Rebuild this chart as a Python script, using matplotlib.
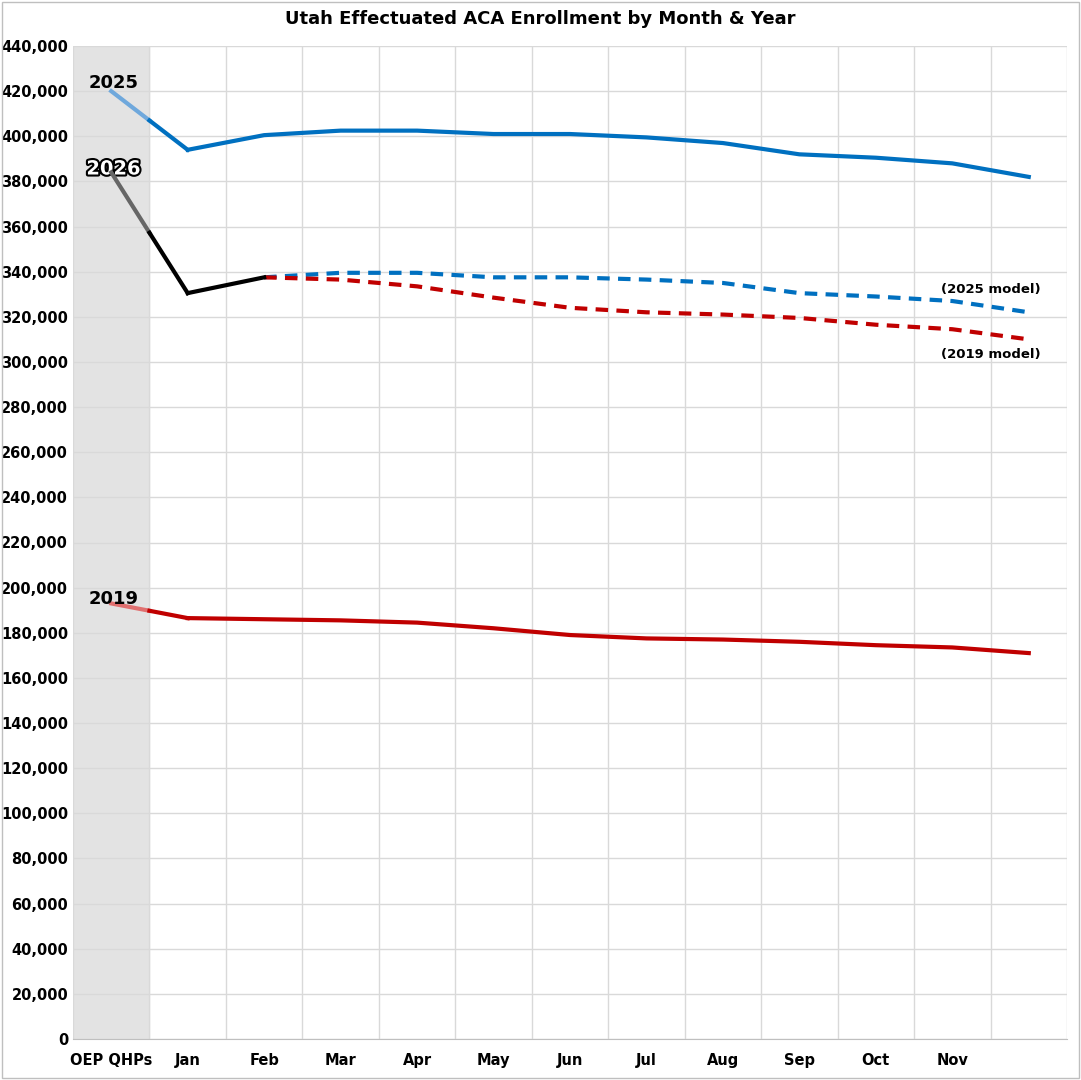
import matplotlib.pyplot as plt
import matplotlib.patheffects as pe
import numpy as np

months = ['OEP QHPs', 'Jan', 'Feb', 'Mar', 'Apr', 'May', 'Jun', 'Jul', 'Aug', 'Sep', 'Oct', 'Nov', '']
y2025 = [420000, 394000, 400500, 402500, 402500, 401000, 401000, 399500, 397000, 392000, 390500, 388000, 382000]
y2026 = [384000, 330500, 337500]
m2025 = [337500, 339500, 339500, 337500, 337500, 336500, 335000, 330500, 329000, 327000, 322000]
m2019 = [337500, 336500, 333500, 328500, 324000, 322000, 321000, 319500, 316500, 314500, 310000]
y2019 = [193000, 186500, 186000, 185500, 184500, 182000, 179000, 177500, 177000, 176000, 174500, 173500, 171000]

blue = '#0070C0'
red = '#C00000'
x = np.arange(len(months))

fig = plt.figure(figsize=(10.81, 10.8), dpi=100)
ax = fig.add_axes([73/1081, 1 - 1039/1080, (1067-73)/1081, (1039-46)/1080])
ax.axvspan(-0.5, 0.5, color='#E3E3E3', zorder=0)

# OEP segments: faded inside the shaded band, solid after it
def oep_segment(series, faded, solid, z):
    mid = (series[0] + series[1]) / 2
    ax.plot([0, 0.5], [series[0], mid], color=faded, lw=3, zorder=z)
    ax.plot([0.5, 1], [mid, series[1]], color=solid, lw=3, zorder=z)

oep_segment(y2025, '#6FA8DC', blue, 3)
oep_segment(y2026, '#666666', 'black', 4)
oep_segment(y2019, '#E07070', red, 3)
ax.plot(x[1:], y2025[1:], color=blue, lw=3, zorder=3)
ax.plot(x[1:3], y2026[1:], color='black', lw=3, zorder=4)
ax.plot(x[2:], m2025, color=blue, lw=3, ls=(0, (3, 2)), zorder=3)
ax.plot(x[2:], m2019, color=red, lw=3, ls=(0, (3, 2)), zorder=3)
ax.plot(x[1:], y2019[1:], color=red, lw=3, zorder=3)

ax.text(0.03, 423500, '2025', fontsize=13, fontweight='bold', va='center', ha='center')
ax.text(0.03, 385500, '2026', fontsize=14, fontweight='bold', color='white', va='center', ha='center',
        path_effects=[pe.withStroke(linewidth=3, foreground='black')])
ax.text(0.03, 195000, '2019', fontsize=13, fontweight='bold', va='center', ha='center')
ax.text(12.15, 332000, '(2025 model)', fontsize=9.5, fontweight='bold', ha='right', va='center')
ax.text(12.15, 303500, '(2019 model)', fontsize=9.5, fontweight='bold', ha='right', va='center')

ax.set_xlim(-0.5, 12.5)
ax.set_ylim(0, 440000)
ax.set_yticks(np.arange(0, 440001, 20000))
ax.set_yticklabels([f'{v:,}' for v in range(0, 440001, 20000)], fontsize=10.5, fontweight='bold')
ax.set_xticks(x)
ax.set_xticklabels(months, fontsize=10.5, fontweight='bold')
ax.set_xticks(np.arange(-0.5, 13, 1), minor=True)
ax.grid(True, which='minor', axis='x', color='#D9D9D9', lw=1)
ax.grid(True, which='major', axis='y', color='#D9D9D9', lw=1)
ax.tick_params(which='both', length=0)
ax.tick_params(axis='x', pad=10)
for s in ax.spines.values():
    s.set_visible(False)
ax.spines['bottom'].set_visible(True)
ax.spines['bottom'].set_color('#BFBFBF')
ax.set_axisbelow(True)
fig.text(0.5, 1 - 19/1080, 'Utah Effectuated ACA Enrollment by Month & Year', ha='center', va='center',
         fontsize=13, fontweight='bold')
fig.patches.append(plt.Rectangle((0.002, 0.002), 0.996, 0.996, transform=fig.transFigure,
                                 fill=False, edgecolor='#BFBFBF', lw=1))
fig.savefig('out.png', dpi=100)
